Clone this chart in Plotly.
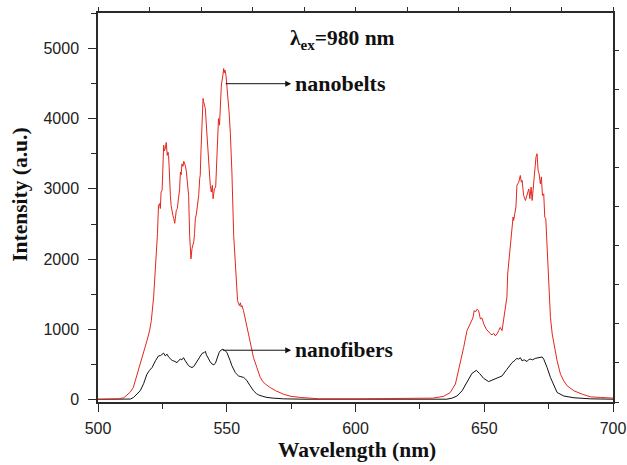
import plotly.graph_objects as go

# Nanobelts (red) spectrum
belts_x = [500, 505, 508, 510, 511, 512.5, 513.7, 515, 516.4, 517.5, 519, 520, 520.7, 521.6, 522.5, 523.1,
           523.5, 523.9, 524.2, 524.5, 524.9, 525.2, 525.5, 525.8, 526.1, 526.5, 526.9, 527.2, 527.4, 527.6,
           527.8, 528.1, 528.4, 528.7, 529.1, 529.4, 529.8, 530.1, 530.4, 530.8, 531.3, 531.7, 532, 532.3,
           532.6, 533, 533.3, 533.6, 533.9, 534.3, 534.6, 535, 535.2, 535.6, 536.1, 536.5, 536.9, 537.2,
           537.5, 537.8, 538.2, 538.7, 539.1, 539.5, 539.7, 540, 540.4, 540.8, 541, 541.3, 541.7, 542,
           542.3, 542.7, 543.2, 543.6, 544, 544.4, 544.7, 545.2, 545.7, 546.2, 546.8, 547.2, 547.5, 547.9,
           548.5, 548.8, 549, 549.3, 549.7, 550.1, 550.5, 550.9, 551.4, 552, 552.7, 553.1, 553.6, 554.2,
           554.6, 554.9, 555.3, 555.6, 555.9, 556.5, 557.2, 557.9, 559.1, 560.4, 561.7, 563, 564, 565,
           566.9, 569, 572.1, 575, 578.6, 582, 586, 600, 615, 625, 630, 634.2, 636.8, 638.8, 640.7, 642,
           643.3, 644.6, 645.6, 646.1, 646.6, 647.2, 647.8, 648.1, 648.5, 649.1, 649.8, 650.8, 651.7, 652.4,
           653, 653.7, 654.3, 655, 655.6, 656.2, 656.9, 657.5, 658.2, 658.8, 659.1, 659.9, 660.5, 661.2,
           661.4, 661.8, 662.3, 662.7, 663.4, 664, 664.4, 664.7, 665.3, 666, 666.6, 667.3, 667.7, 668.2,
           668.6, 669.2, 669.6, 670.1, 670.5, 670.9, 671.3, 671.8, 672.2, 672.6, 673.1, 673.5, 673.9, 674.4,
           675.1, 675.7, 676.4, 677, 678.3, 679.6, 680.9, 682.2, 684.8, 688.1, 691.3, 695.1, 700]
belts_y = [10, 12, 15, 30, 57, 110, 175, 330, 510, 640, 840, 980, 1125, 1460, 1940, 2365,
           2765, 2790, 2720, 2955, 2980, 3300, 3620, 3540, 3570, 3660, 3475, 3520, 3475, 3335,
           3050, 2905, 2760, 2670, 2620, 2580, 2510, 2600, 2690, 2720, 2860, 3000, 3240, 3200,
           3355, 3320, 3390, 3370, 3335, 3250, 3145, 2980, 2905, 2335, 2005, 2150, 2220, 2250,
           2365, 2575, 2640, 2765, 2905, 3150, 3190, 3550, 3950, 4285, 4240, 4190, 4140, 3950,
           3760, 3475, 3145, 3050, 2955, 3050, 2860, 3000, 3025, 3475, 4000, 3905, 4200, 4475,
           4615, 4710, 4650, 4690, 4615, 4475, 4235, 4095, 3785, 3240, 2335, 2075, 1695, 1410,
           1370, 1340, 1380, 1320, 1340, 1270, 1150, 1030, 795, 600, 460, 320, 260, 225,
           175, 130, 80, 50, 35, 22, 15, 15, 15, 18, 25, 50, 105, 225, 510, 745,
           985, 1080, 1165, 1270, 1250, 1290, 1270, 1220, 1150, 1165, 1080, 1005, 960, 940,
           925, 945, 910, 940, 985, 1030, 985, 1125, 1315, 1460, 1790, 2125, 2265, 2600,
           2550, 2670, 2740, 3050, 3095, 3190, 3095, 3120, 2905, 2835, 2930, 3000, 2860, 3025,
           2835, 3070, 3265, 3455, 3500, 3265, 3215, 3070, 3170, 2905, 2930, 2600, 2575, 2125,
           1555, 1175, 935, 795, 555, 365, 270, 200, 130, 80, 43, 35, 25]

# Nanofibers (black) spectrum
fibers_x = [500, 510, 512.6, 513.8, 515, 516.4, 517.7, 519, 520, 521, 522.3, 523.5, 524.3, 524.9, 525.5,
            526.1, 526.8, 527.4, 528.1, 528.8, 529.4, 530, 530.7, 531.3, 532, 532.6, 533.2, 533.9, 534.5,
            535.2, 535.9, 536.5, 537.2, 537.8, 538.5, 539.1, 539.8, 540.4, 541.3, 541.7, 542.1, 542.5, 543,
            543.6, 544.3, 545, 545.6, 546.5, 547, 547.5, 548.5, 549, 549.4, 550.1, 550.7, 551.3, 552, 552.7,
            553.3, 554, 554.6, 555.5, 556.5, 557.2, 557.9, 559.1, 560.4, 561.5, 562.4, 564, 565.6, 568,
            572.1, 580, 600, 620, 635.5, 637.5, 639.4, 641.4, 643.3, 645.2, 646.9, 648.2, 649.8, 651.7,
            653, 655, 656.9, 658.8, 660.8, 662, 662.6, 663.4, 664, 664.7, 665.5, 666.6, 667.3, 667.9,
            668.8, 669.8, 670.8, 671.8, 672.5, 673.1, 673.8, 674.4, 675.7, 677, 678.3, 680.9, 684.8,
            691.3, 700]
fibers_y = [8, 8, 12, 35, 75, 130, 230, 365, 420, 460, 555, 625, 630, 650, 665,
            625, 650, 610, 580, 560, 555, 540, 530, 560, 580, 570, 600, 555, 520,
            485, 470, 460, 475, 510, 540, 580, 630, 660, 675, 690, 640, 610, 580,
            540, 510, 500, 520, 625, 670, 700, 720, 705, 700, 670, 625, 560, 485, 430,
            390, 360, 340, 330, 320, 300, 270, 200, 130, 90, 70, 50, 35, 25,
            15, 10, 8, 8, 10, 25, 55, 130, 245, 375, 420, 375, 305, 260,
            280, 305, 340, 435, 530, 565, 590, 580, 600, 555, 570, 545, 575, 580,
            570, 590, 595, 600, 610, 580, 520, 460, 320, 200, 105, 55, 30,
            15, 10]

x_ticks = [500, 550, 600, 650, 700]
y_ticks = [0, 1000, 2000, 3000, 4000, 5000]

AX = "#2a2a2a"
TICKFONT = dict(family="Liberation Sans, Arial, sans-serif", size=16, color="#222")
SERIF = "Liberation Serif, Times New Roman, serif"

fig = go.Figure()
fig.add_trace(go.Scatter(x=fibers_x, y=fibers_y, mode="lines",
                         line=dict(color="#111111", width=1), showlegend=False))
fig.add_trace(go.Scatter(x=belts_x, y=belts_y, mode="lines",
                         line=dict(color="rgb(228,38,30)", width=1), showlegend=False))
# dummy trace for mirror axes (top / right)
fig.add_trace(go.Scatter(x=[None], y=[None], xaxis="x2", yaxis="y2",
                         showlegend=False, hoverinfo="skip"))

fig.update_layout(
    width=627, height=465,
    margin=dict(l=98, r=14, t=13, b=63, autoexpand=False),
    paper_bgcolor="white", plot_bgcolor="white",
    xaxis=dict(range=[500, 700], tickvals=x_ticks, ticks="outside", ticklen=8,
               tickwidth=1.3, tickcolor=AX, showline=True, linecolor=AX, linewidth=1.5,
               showgrid=False, zeroline=False, tickfont=TICKFONT, automargin=False,
               ticklabelstandoff=3,
               minor=dict(dtick=25, tick0=500, ticks="outside", ticklen=5, tickcolor=AX, tickwidth=1.2)),
    yaxis=dict(range=[-30, 5500], tickvals=y_ticks, ticks="outside", ticklen=8,
               tickwidth=1.3, tickcolor=AX, showline=True, linecolor=AX, linewidth=1.5,
               showgrid=False, zeroline=False, tickfont=TICKFONT, automargin=False,
               ticklabelstandoff=6,
               minor=dict(dtick=500, tick0=0, ticks="outside", ticklen=5, tickcolor=AX, tickwidth=1.2)),
    xaxis2=dict(overlaying="x", side="top", range=[500, 700], tick0=500, dtick=20,
                ticks="outside", ticklen=4, tickcolor=AX, showline=True, linecolor=AX,
                linewidth=1.5, showticklabels=False, showgrid=False, zeroline=False,
                automargin=False),
    yaxis2=dict(overlaying="y", side="right", range=[0, 9.97], tick0=0, dtick=1,
                ticks="outside", ticklen=4, tickcolor=AX, showline=True, linecolor=AX,
                linewidth=1.5, showticklabels=False, showgrid=False, zeroline=False,
                automargin=False),
)

annotations = [
    dict(xref="paper", yref="paper", x=0.503, y=-0.123, text="<b>Wavelength (nm)</b>",
         showarrow=False, font=dict(family=SERIF, size=21.5, color="#111"),
         xanchor="center", yanchor="middle"),
    dict(xref="paper", yref="paper", x=-0.152, y=0.532, text="<b>Intensity (a.u.)</b>",
         showarrow=False, textangle=-90, font=dict(family=SERIF, size=21.5, color="#111"),
         xanchor="center", yanchor="middle"),
    dict(x=595.1, y=5130, xref="x", yref="y", text="<b>λ<sub>ex</sub>=980 nm</b>",
         showarrow=False, font=dict(family=SERIF, size=21.5, color="#111"),
         xanchor="center", yanchor="middle"),
    # label + arrow from the curve to the label (head at the label side)
    dict(x=549.6, y=4495, ax=576.2, ay=4495, xref="x", yref="y", axref="x", ayref="y",
         text="<b>nanobelts</b>", font=dict(family=SERIF, size=22, color="#111"),
         xanchor="left", yanchor="middle", borderpad=0, startstandoff=3,
         showarrow=True, arrowside="start", arrowhead=2, startarrowhead=2,
         startarrowsize=1.2, arrowwidth=1, arrowcolor="#111"),
    dict(x=548.5, y=706, ax=576.2, ay=706, xref="x", yref="y", axref="x", ayref="y",
         text="<b>nanofibers</b>", font=dict(family=SERIF, size=21.5, color="#111"),
         xanchor="left", yanchor="middle", borderpad=0, startstandoff=3,
         showarrow=True, arrowside="start", arrowhead=2, startarrowhead=2,
         startarrowsize=1.2, arrowwidth=1, arrowcolor="#111"),
]
fig.update_layout(annotations=annotations)

fig.write_html("out.html")
